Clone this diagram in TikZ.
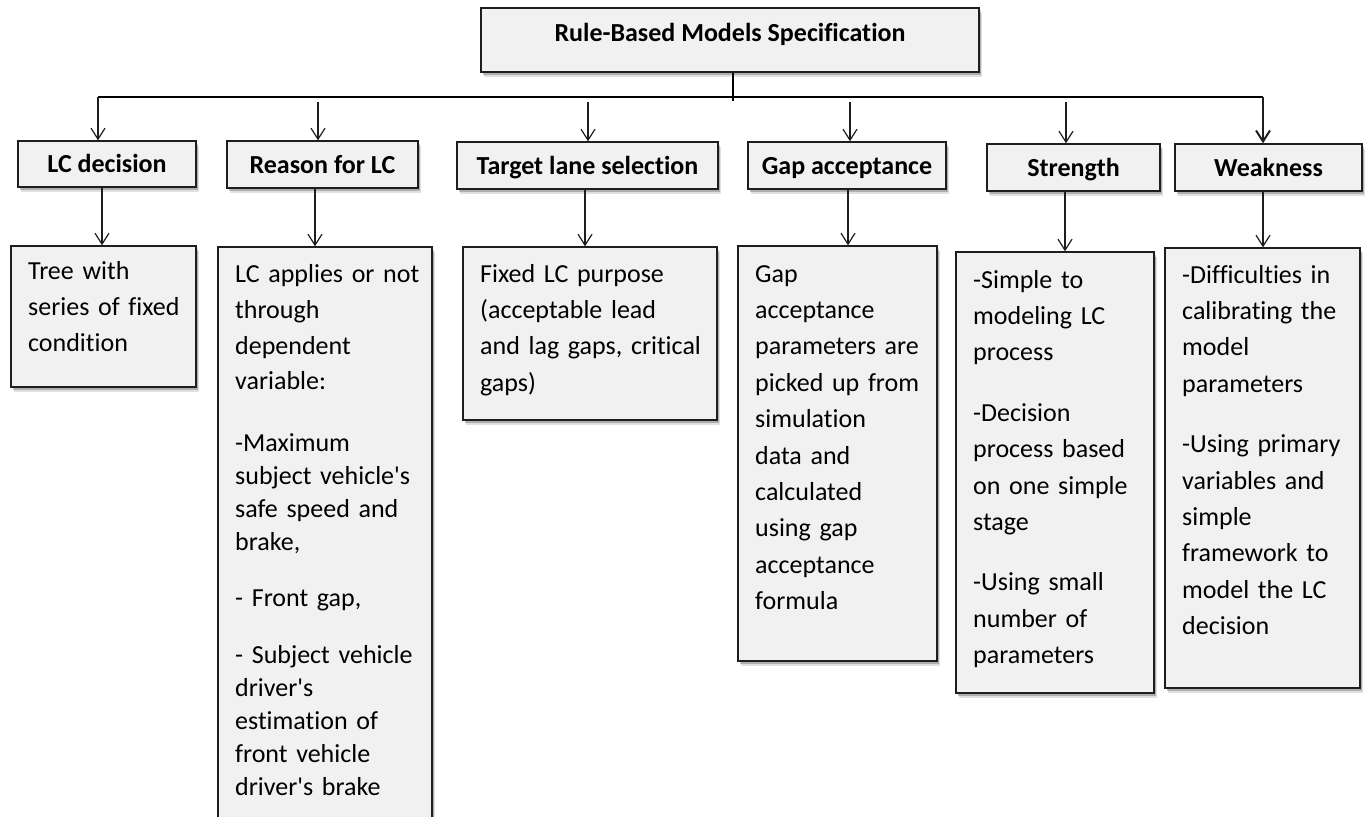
\documentclass[tikz,border=0pt]{standalone}
\usepackage{fontspec}
\setmainfont{Carlito}[Ligatures={CommonOff,TeXOff}]
\usetikzlibrary{arrows.meta,shadows}
\definecolor{boxfill}{HTML}{F1F1F1}
\definecolor{edge}{HTML}{1E1E1E}
\begin{document}
\begin{tikzpicture}[x=1pt,y=-1pt,
  box/.style={draw=edge, line width=1.4pt, fill=boxfill, inner sep=0pt,
    drop shadow={shadow xshift=3pt, shadow yshift=-5pt, opacity=0.12, fill=black},
    drop shadow={shadow xshift=1.5pt, shadow yshift=-3pt, opacity=0.22, fill=black}},
  head/.style={box, font=\bfseries\fontsize{26}{31}\selectfont, text height=17pt, text depth=0pt},
  body/.style={anchor=north west, inner sep=0pt, align=left, text width=320pt,
    font=\fontsize{26}{36.4}\selectfont},
  arr/.style={draw=edge, line width=1.2pt, -{Straight Barb[length=11pt,width=14pt]}},
  bus/.style={draw=black, line width=2.8pt},
]
\useasboundingbox[fill=white] (0,0) rectangle (1367,816);

% title
\node[box, font=\bfseries\fontsize{26}{31}\selectfont, text height=18pt, text depth=15pt,
  minimum width=498pt, minimum height=64pt] (top) at (730,40) {Rule-Based Models Specification};

% category headers
\node[head, minimum width=178pt, minimum height=46pt] (h1) at (107,164) {LC decision};
\node[head, minimum width=191pt, minimum height=47pt] (h2) at (322.5,164.5) {Reason for LC};
\node[head, minimum width=261pt, minimum height=47pt] (h3) at (587.5,165.5) {Target lane selection};
\node[head, minimum width=198pt, minimum height=47pt] (h4) at (847,165.5) {Gap acceptance};
\node[head, minimum width=173pt, minimum height=47pt] (h5) at (1073.5,167.5) {Strength};
\node[head, minimum width=187pt, minimum height=47pt] (h6) at (1268.5,167.5) {Weakness};

% description boxes
\node[box, minimum width=185pt, minimum height=141pt] (b1) at (103.5,316.5) {};
\node[box, minimum width=214pt, minimum height=600pt] (b2) at (325,547) {};
\node[box, minimum width=254pt, minimum height=173pt] (b3) at (590,333.5) {};
\node[box, minimum width=199pt, minimum height=415pt] (b4) at (837.5,453.5) {};
\node[box, minimum width=198pt, minimum height=441pt] (b5) at (1055,472.5) {};
\node[box, minimum width=195pt, minimum height=440pt] (b6) at (1262.5,468) {};

% description texts
\node[body] (t1) at (28,253.5) {\strut Tree with\\series of fixed\\condition};
\node[body, font=\fontsize{26}{33}\selectfont] (t2) at (235,258.9) {\strut LC applies or not\\[3pt]
through\\[3.5pt]dependent\\[2pt]variable:\\[29pt]
-Maximum\\subject vehicle's\\safe speed and\\brake,\\[23pt]
- Front gap,\\[24pt]
- Subject vehicle\\driver's\\estimation of\\front vehicle\\driver's brake};
\node[body] (t3) at (480,256.5) {\strut Fixed LC purpose\\(acceptable lead\\and lag gaps, critical\\gaps)};
\node[body] (t4) at (755,256.5) {\strut Gap\\acceptance\\parameters are\\picked up from\\simulation\\data and\\calculated\\using gap\\acceptance\\formula};
\node[body] (t5) at (973,262.5) {\strut -Simple to\\modeling LC\\process\\[24pt]
-Decision\\process based\\on one simple\\stage\\[24pt]
-Using small\\number of\\parameters};
\node[body] (t6) at (1182,257.5) {\strut -Difficulties in\\calibrating the\\model\\parameters\\[24pt]
-Using primary\\variables and\\simple\\framework to\\model the LC\\decision};

% distribution bus
\coordinate (busL) at (98,97);
\coordinate (busR) at (1263,97);
\draw[bus] ([xshift=3pt]top.south) -- ++(0,28);
\draw[bus] (busL) -- (busR);

\coordinate (s2) at (318,102);
\coordinate (s3) at (588,102);
\coordinate (s4) at (850,102);
\coordinate (s5) at (1066,102);

\draw[arr] (busL) -- (busL |- h1.north);
\draw[arr] (s2) -- (s2 |- h2.north);
\draw[arr] (s3) -- (s3 |- h3.north);
\draw[arr] (s4) -- (s4 |- h4.north);
\draw[arr] (s5) -- (s5 |- h5.north);
\draw[arr, line width=2pt] (busR) -- (busR |- h6.north);

% header to description
\coordinate (d1) at (102,0);
\coordinate (d2) at (315,0);
\coordinate (d3) at (585,0);
\coordinate (d4) at (848,0);
\coordinate (d5) at (1065,0);
\coordinate (d6) at (1263,0);
\draw[arr] (d1 |- h1.south) -- (d1 |- b1.north);
\draw[arr] (d2 |- h2.south) -- (d2 |- b2.north);
\draw[arr] (d3 |- h3.south) -- (d3 |- b3.north);
\draw[arr] (d4 |- h4.south) -- (d4 |- b4.north);
\draw[arr] (d5 |- h5.south) -- (d5 |- b5.north);
\draw[arr] (d6 |- h6.south) -- (d6 |- b6.north);
\end{tikzpicture}
\end{document}
